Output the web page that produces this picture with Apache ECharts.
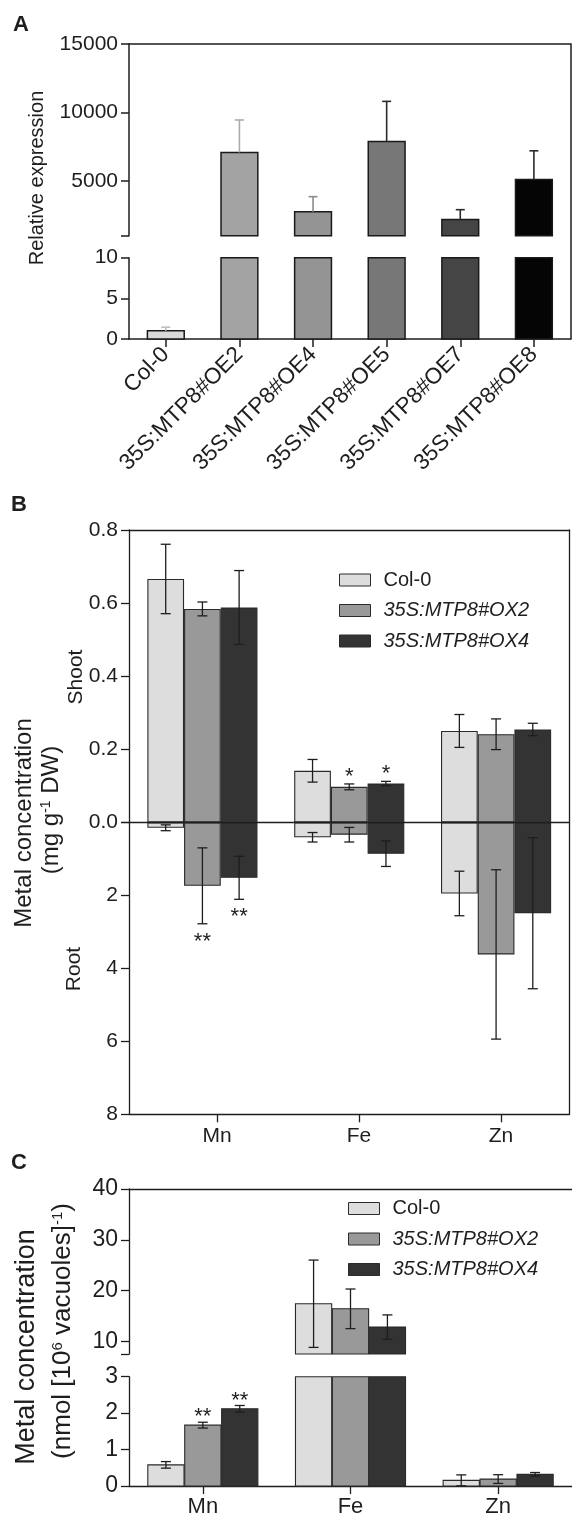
<!DOCTYPE html>
<html><head><meta charset="utf-8">
<script src="https://cdn.jsdelivr.net/npm/echarts@6/dist/echarts.min.js"></script>
<style>html,body{margin:0;padding:0;background:#fff}#c{width:572px;height:1518px}</style>
</head><body><div id="c"></div>
<script>
const FONT = '"Liberation Sans", Arial, Helvetica, sans-serif';

// ---------- Panel A data ----------
const linesA = ['Col-0', '35S:MTP8#OE2', '35S:MTP8#OE4', '35S:MTP8#OE5', '35S:MTP8#OE7', '35S:MTP8#OE8'];
const exprMean = [1.0, 7080, 2750, 7880, 2190, 5100];
const exprErr = [0.45, 2370, 1100, 2930, 710, 2100];
const barColorsA = ['#dadada', '#a3a3a3', '#949494', '#777777', '#454545', '#050505'];
const errColorsA = ['#bdbdbd', '#ababab', '#8c8c8c', '#2a2a2a', '#2a2a2a', '#2a2a2a'];
const labelsAUpper = [5000, 10000, 15000];
const ticksAUpper = [1000, 5000, 10000, 15000];

// ---------- Panel B data ----------
const metals = ['Mn', 'Fe', 'Zn'];
const genotypes = ['Col-0', '35S:MTP8#OX2', '35S:MTP8#OX4'];
const genoColors = ['#dddddd', '#999999', '#333333'];
const shootCol0 = [0.666, 0.141, 0.250];
const shootCol0Err = [0.095, 0.031, 0.045];
const shootOX2 = [0.584, 0.097, 0.241];
const shootOX2Err = [0.019, 0.008, 0.042];
const shootOX4 = [0.588, 0.106, 0.254];
const shootOX4Err = [0.101, 0.006, 0.017];
const rootCol0 = [0.15, 0.41, 1.95];
const rootCol0Err = [0.08, 0.13, 0.61];
const rootOX2 = [1.74, 0.34, 3.62];
const rootOX2Err = [1.04, 0.20, 2.32];
const rootOX4 = [1.52, 0.86, 2.49];
const rootOX4Err = [0.59, 0.35, 2.07];
const shootStarsOX2 = ['', '*', ''];
const shootStarsOX4 = ['', '*', ''];
const rootStarsOX2 = ['**', '', ''];
const rootStarsOX4 = ['**', '', ''];

// ---------- Panel C data ----------
const vacCol0 = [0.58, 17.4, 0.155];
const vacCol0Err = [0.09, 8.6, 0.15];
const vacOX2 = [1.67, 16.4, 0.19];
const vacOX2Err = [0.08, 3.9, 0.12];
const vacOX4 = [2.12, 12.8, 0.32];
const vacOX4Err = [0.09, 2.4, 0.05];
const vacStarsOX2 = ['**', '', ''];
const vacStarsOX4 = ['**', '', ''];
const labelsCUpper = [10, 20, 30, 40];
const ticksCUpper = [7.5, 10, 20, 30, 40];

// ---------- helpers ----------
function merge(a, b) {
  const out = Array.isArray(a) ? a.slice() : Object.assign({}, a);
  for (const k in b) {
    if (b[k] && typeof b[k] === 'object' && !Array.isArray(b[k]) && a && typeof a[k] === 'object' && !Array.isArray(a[k])) out[k] = merge(a[k], b[k]);
    else out[k] = b[k];
  }
  return out;
}
const AX = '#1e1e1e';
function valAxis(gi, lw, fs, o) {
  return merge({
    type: 'value', gridIndex: gi, splitLine: { show: false },
    axisLine: { show: true, lineStyle: { color: AX, width: lw } },
    axisTick: { show: true, length: 8, lineStyle: { color: AX, width: lw } },
    axisLabel: { color: '#1e1e1e', fontSize: fs, fontFamily: FONT, margin: 11, formatter: v => String(v) }
  }, o || {});
}
function catAxis(gi, data, lw, o) {
  return merge({
    type: 'category', gridIndex: gi, data: data,
    axisLine: { show: true, onZero: false, lineStyle: { color: AX, width: lw } },
    axisTick: { show: false, alignWithLabel: true, length: 8, lineStyle: { color: AX, width: lw } },
    axisLabel: { show: false, color: '#1e1e1e', fontFamily: FONT }
  }, o || {});
}
function hiddenY(gi) { return { type: 'value', gridIndex: gi, show: false, splitLine: { show: false } }; }

function toData(mean, err) { return mean.map((v, i) => [i, v, err[i]]); }

function barRenderer(seg, nSer, k, frac, gap, fills, stroke, lw) {
  return function (params, api) {
    const ci = api.value(0), v = api.value(1);
    if (v <= seg[0]) return null;
    const band = api.size([1, 0])[0];
    const w = band * frac;
    const cx = api.coord([ci, seg[0]])[0] + (k - (nSer - 1) / 2) * w;
    const yT = api.coord([ci, Math.min(v, seg[1])])[1];
    const yB = api.coord([ci, Math.max(seg[0], 0)])[1];
    const fill = Array.isArray(fills) ? fills[params.dataIndex] : fills;
    return { type: 'rect', shape: { x: cx - w / 2 + gap / 2, y: yT, width: w - gap, height: yB - yT },
      style: { fill: fill, stroke: stroke, lineWidth: lw } };
  };
}
function errRenderer(seg, nSer, k, frac, opt) {
  return function (params, api) {
    const ci = api.value(0), v = api.value(1), e = api.value(2);
    if (v < seg[0] || v > seg[1]) return null;
    const band = api.size([1, 0])[0];
    const cx = api.coord([ci, v])[0] + (k - (nSer - 1) / 2) * band * frac;
    const hiV = Math.min(v + e, seg[1]);
    const loV = opt.oneSided ? v : Math.max(v - e, seg[0]);
    const yHi = api.coord([ci, hiV])[1];
    const yLo = api.coord([ci, loV])[1];
    const color = Array.isArray(opt.color) ? opt.color[params.dataIndex] : opt.color;
    const st = { stroke: color, lineWidth: opt.lw };
    const h = opt.cap / 2;
    const ch = [
      { type: 'line', shape: { x1: cx, y1: yLo, x2: cx, y2: yHi }, style: st },
      { type: 'line', shape: { x1: cx - h, y1: yHi, x2: cx + h, y2: yHi }, style: st }
    ];
    if (!opt.oneSided) ch.push({ type: 'line', shape: { x1: cx - h, y1: yLo, x2: cx + h, y2: yLo }, style: st });
    const star = opt.stars ? opt.stars[params.dataIndex] : '';
    if (star) {
      const up = yHi < yLo;
      ch.push({ type: 'text', style: { text: star, x: cx, y: up ? yHi - opt.starUp : yHi + opt.starDown,
        align: 'center', verticalAlign: 'middle', fontSize: opt.starSize, fontFamily: FONT, fill: '#1e1e1e' } });
    }
    return { type: 'group', children: ch };
  };
}

// ---------- grids ----------
const grids = [
  { left: 129, width: 441.7, top: 44, height: 191.7 },      // 0 A upper
  { left: 129, width: 441.7, top: 257.7, height: 81.3 },    // 1 A lower
  { left: 129, width: 441.7, top: 44, height: 295 },        // 2 A frame
  { left: 129, width: 440.5, top: 530, height: 292.3 },     // 3 B shoot
  { left: 129, width: 440.5, top: 822.3, height: 292 },     // 4 B root
  { left: 146, width: 440.5, top: 822.3, height: 292 },     // 5 B tick labels
  { left: 129, width: 440.5, top: 530, height: 584.3 },     // 6 B frame
  { left: 129, width: 445.5, top: 1189, height: 165 },      // 7 C upper
  { left: 129, width: 445.5, top: 1376.7, height: 109.6 }   // 8 C lower
];

const xAxes = [
  catAxis(0, linesA, 1.5, { axisLine: { show: false } }),                          // 0
  catAxis(1, linesA, 1.5, { axisTick: { show: true, length: 8 },
    axisLabel: { show: true, rotate: 45, fontSize: 22.5, margin: 12, interval: 0 } }), // 1
  catAxis(2, [''], 1.5, { position: 'top' }),                                         // 2
  catAxis(3, metals, 1.3, { z: 5 }),                                                  // 3 zero line
  catAxis(4, metals, 1.3, {}),                                                        // 4
  catAxis(5, metals, 1.3, { axisLine: { show: false }, axisTick: { show: true, length: 8 },
    axisLabel: { show: true, fontSize: 21, margin: 11 } }),                           // 5
  catAxis(6, [''], 1.3, { position: 'top' }),                                         // 6
  catAxis(7, metals, 1.3, { axisLine: { show: false } }),                             // 7
  catAxis(8, metals, 1.3, { axisTick: { show: true, length: 8 },
    axisLabel: { show: true, fontSize: 22, margin: 10 } }),                           // 8
  catAxis(7, metals, 1.3, { position: 'top' })                                        // 9 C top line
];

const yAxes = [
  valAxis(0, 1.5, 21, { min: 1000, max: 15000,
    axisLabel: { customValues: labelsAUpper }, axisTick: { customValues: ticksAUpper } }),  // 0
  valAxis(1, 1.5, 21, { min: 0, max: 10, interval: 5 }),                                 // 1
  { type: 'value', gridIndex: 2, position: 'right', splitLine: { show: false },
    axisLine: { show: true, lineStyle: { color: AX, width: 1.5 } }, axisTick: { show: false }, axisLabel: { show: false } }, // 2
  valAxis(3, 1.3, 21, { min: 0, max: 0.8, interval: 0.2,
    axisLabel: { formatter: v => v.toFixed(1) } }),                                       // 3
  valAxis(4, 1.3, 21, { min: 0, max: 8, interval: 2, inverse: true,
    axisLabel: { formatter: v => (v === 0 ? '' : String(v)) } }),                         // 4
  hiddenY(5),                                                                             // 5
  { type: 'value', gridIndex: 6, position: 'right', splitLine: { show: false },
    axisLine: { show: true, lineStyle: { color: AX, width: 1.3 } }, axisTick: { show: false }, axisLabel: { show: false } }, // 6
  valAxis(7, 1.3, 23, { min: 7.5, max: 40,
    axisLabel: { customValues: labelsCUpper }, axisTick: { customValues: ticksCUpper } }), // 7
  valAxis(8, 1.3, 23, { min: 0, max: 3, interval: 1 })                                   // 8
];

const series = [];

// ---------- Panel A series ----------
[[0, 0, [1000, 15000]], [1, 1, [0, 10]]].forEach(([xi, yi, seg]) => {
  series.push({ type: 'custom', name: 'exprBar' + xi, xAxisIndex: xi, yAxisIndex: yi, encode: { x: 0, y: 1 },
    data: toData(exprMean, exprErr), renderItem: barRenderer(seg, 1, 0, 0.5, 0, barColorsA, '#1a1a1a', 1.5), z: 2 });
  series.push({ type: 'custom', name: 'exprErr' + xi, xAxisIndex: xi, yAxisIndex: yi, encode: { x: 0, y: 1 },
    data: toData(exprMean, exprErr), renderItem: errRenderer(seg, 1, 0, 0.5,
      { oneSided: true, color: errColorsA, lw: 1.6, cap: 9 }), z: 3 });
});

// ---------- Panel B series ----------
const shootSets = [[shootCol0, shootCol0Err, null], [shootOX2, shootOX2Err, shootStarsOX2], [shootOX4, shootOX4Err, shootStarsOX4]];
const rootSets = [[rootCol0, rootCol0Err, null], [rootOX2, rootOX2Err, rootStarsOX2], [rootOX4, rootOX4Err, rootStarsOX4]];
[[3, shootSets, [0, 0.8]], [4, rootSets, [0, 8]]].forEach(([ai, sets, seg]) => {
  sets.forEach((s, k) => {
    series.push({ type: 'bar', name: genotypes[k], xAxisIndex: ai, yAxisIndex: ai, data: s[0],
      barGap: '0%', barCategoryGap: '25%',
      itemStyle: { color: genoColors[k], borderColor: '#2a2a2a', borderWidth: 1.1 } });
  });
  sets.forEach((s, k) => {
    series.push({ type: 'custom', name: 'errB' + ai + k, xAxisIndex: ai, yAxisIndex: ai, encode: { x: 0, y: 1 },
      data: toData(s[0], s[1]), z: 3,
      renderItem: errRenderer(seg, 3, k, 0.25, { color: '#1e1e1e', lw: 1.3, cap: 10, stars: s[2],
        starUp: 7, starDown: 18, starSize: 22 }) });
  });
});

// ---------- Panel C series ----------
const vacSets = [[vacCol0, vacCol0Err, null], [vacOX2, vacOX2Err, vacStarsOX2], [vacOX4, vacOX4Err, vacStarsOX4]];
[[7, [7.5, 40]], [8, [0, 3]]].forEach(([ai, seg]) => {
  vacSets.forEach((s, k) => {
    series.push({ type: 'custom', name: genotypes[k], xAxisIndex: ai, yAxisIndex: ai, encode: { x: 0, y: 1 },
      itemStyle: { color: genoColors[k] }, z: 2,
      data: toData(s[0], s[1]), renderItem: barRenderer(seg, 3, k, 0.25, 0.7, genoColors[k], '#2a2a2a', 1.1) });
  });
  vacSets.forEach((s, k) => {
    series.push({ type: 'custom', name: 'errC' + ai + k, xAxisIndex: ai, yAxisIndex: ai, encode: { x: 0, y: 1 },
      data: toData(s[0], s[1]), z: 3,
      renderItem: errRenderer(seg, 3, k, 0.25, { color: '#1e1e1e', lw: 1.3, cap: 10, stars: s[2],
        starUp: 5, starDown: 18, starSize: 22 }) });
  });
});

function legend(left, top) {
  return {
    left: left, top: top, orient: 'vertical', selectedMode: false, icon: 'rect',
    itemWidth: 31, itemHeight: 12, itemGap: 10.5,
    data: genotypes.map((g, k) => ({ name: g, itemStyle: { color: genoColors[k], borderColor: '#2a2a2a', borderWidth: 1 } })),
    formatter: n => (n === 'Col-0' ? n : '{i|' + n + '}'),
    textStyle: { fontSize: 20, fontFamily: FONT, color: '#1e1e1e', lineHeight: 20, padding: [0, 0, 0, 8],
      rich: { i: { fontStyle: 'italic', fontSize: 20, fontFamily: FONT, color: '#1e1e1e', lineHeight: 20 } } }
  };
}

function label(text, x, y, size, bold) {
  return { type: 'text', x: x, y: y, style: { text: text, align: 'center', verticalAlign: 'middle',
    fontSize: size, fontWeight: bold ? 'bold' : 'normal', fontFamily: FONT, fill: '#1e1e1e' } };
}
function vtext(text, x, y, size, rich) {
  return { type: 'text', x: x, y: y, rotation: Math.PI / 2, style: { text: text, align: 'center', verticalAlign: 'middle',
    fontSize: size, fontFamily: FONT, fill: '#1e1e1e', rich: rich || {} } };
}

const option = {
  animation: false,
  backgroundColor: '#ffffff',
  grid: grids,
  xAxis: xAxes,
  yAxis: yAxes,
  series: series,
  legend: [legend(334, 565), legend(343, 1193.5)],
  graphic: [
    label('A', 21, 25, 22, true),
    label('B', 19, 505, 22, true),
    label('C', 19, 1163, 22, true),
    vtext('Relative expression', 37, 178, 20),
    vtext('Shoot', 76, 677, 21),
    vtext('Root', 74, 969, 21),
    vtext('Metal concentration', 24, 823, 24),
    vtext('(mg g{s|-1} DW)', 51, 810, 24, { s: { fontSize: 14, verticalAlign: 'top', fontFamily: FONT, fill: '#1e1e1e' } }),
    vtext('Metal concentration', 27, 1347, 27),
    vtext('(nmol [10{s|6} vacuoles]{s|-1})', 63, 1331, 26, { s: { fontSize: 15, verticalAlign: 'top', fontFamily: FONT, fill: '#1e1e1e' } })
  ]
};
const chart = echarts.init(document.getElementById('c'), null, { renderer: 'canvas' });
chart.setOption(option);
</script></body></html>
